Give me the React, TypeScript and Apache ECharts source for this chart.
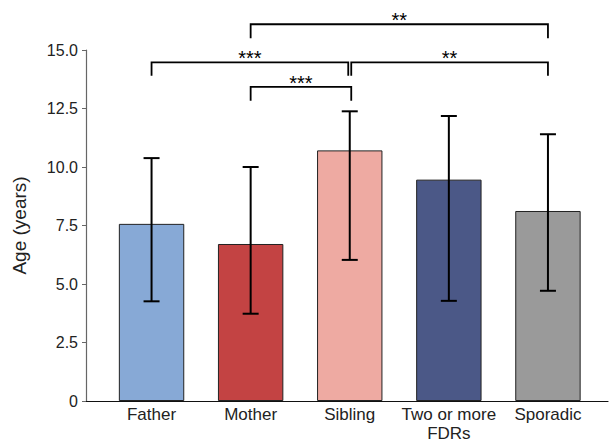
import React, { useEffect, useRef } from "react";
import * as echarts from "echarts";

const categories = ["Father", "Mother", "Sibling", "Two or more\nFDRs", "Sporadic"];
const means = [7.57, 6.71, 10.71, 9.46, 8.12];
const lowers = [4.26, 3.73, 6.03, 4.28, 4.71];
const uppers = [10.38, 10.0, 12.38, 12.18, 11.4];
const barColors = ["#87A9D6", "#C34343", "#EEAAA2", "#4B5887", "#9A9A9A"];
const yTicks = [0, 2.5, 5, 7.5, 10, 12.5, 15];

// brackets: [left category, right category, line level, leg end level]
const bracketLeft = [1, 0, 2, 1];
const bracketRight = [4, 2, 4, 2];
const bracketLine = [16.1, 14.47, 14.47, 13.42];
const bracketLeg = [15.5, 13.9, 13.9, 12.83];
const bracketLabels = ["**", "***", "**", "***"];
const FONT = "'Liberation Sans', Arial, Helvetica, sans-serif";

export default function App() {
  const ref = useRef<HTMLDivElement>(null);
  useEffect(() => {
    document.body.style.margin = "0";
    if (!ref.current) return;
    const chart = echarts.init(ref.current, undefined, { renderer: "svg" });
    const nudge = [
      [0, 0],
      [0, -1.5],
      [1.5, 0],
      [0, 1.5],
    ];
    chart.setOption({
      animation: false,
      grid: [
        { left: 102, right: 11.5, top: 50, bottom: 41, outerBoundsMode: "none", containLabel: false },
        { left: 86, right: 1, top: 50, bottom: 41, outerBoundsMode: "none", containLabel: false },
      ],
      xAxis: [
        {
          type: "category",
          gridIndex: 0,
          data: categories,
          axisLine: { show: false },
          axisTick: { show: false },
          axisLabel: {
            color: "#222",
            fontSize: 17,
            fontFamily: FONT,
            margin: 4,
            lineHeight: 19,
            interval: 0,
          },
        },
        {
          type: "value",
          gridIndex: 1,
          min: 0,
          max: 1,
          axisLine: { show: true, lineStyle: { color: "#111", width: 1.2 } },
          axisTick: { show: false },
          axisLabel: { show: false },
          splitLine: { show: false },
        },
      ],
      yAxis: [
        {
          type: "value",
          gridIndex: 0,
          min: 0,
          max: 15,
          interval: 2.5,
          offset: 16,
          name: "Age (years)",
          nameLocation: "middle",
          nameGap: 57,
          nameTextStyle: { color: "#222", fontSize: 19, fontFamily: FONT },
          axisLine: { show: true, lineStyle: { color: "#666", width: 1.2 } },
          axisTick: { show: true, length: 4, lineStyle: { color: "#666" } },
          axisLabel: {
            color: "#222",
            fontSize: 16,
            fontFamily: FONT,
            margin: 8,
            formatter: (v: number) =>
              yTicks.includes(v) ? (v === 0 ? "0" : v.toFixed(1)) : "",
          },
          splitLine: { show: false },
        },
        { type: "value", gridIndex: 1, show: false, min: 0, max: 1 },
      ],
      series: [
        {
          type: "bar",
          xAxisIndex: 0,
          yAxisIndex: 0,
          barWidth: "66%",
          data: means.map((v, i) => ({
            value: v,
            itemStyle: { color: barColors[i], borderColor: "#222", borderWidth: 1 },
          })),
        },
        {
          type: "custom",
          xAxisIndex: 0,
          yAxisIndex: 0,
          clip: false,
          z: 5,
          data: means.map((_, i) => [i, lowers[i], uppers[i]]),
          renderItem: (params: any, api: any) => {
            const lo = api.coord([api.value(0), api.value(1)]);
            const hi = api.coord([api.value(0), api.value(2)]);
            const hw = 8;
            const style = { stroke: "#000", lineWidth: 2 };
            return {
              type: "group",
              children: [
                { type: "line", shape: { x1: lo[0], y1: lo[1], x2: hi[0], y2: hi[1] }, style },
                { type: "line", shape: { x1: hi[0] - hw, y1: hi[1], x2: hi[0] + hw, y2: hi[1] }, style },
                { type: "line", shape: { x1: lo[0] - hw, y1: lo[1], x2: lo[0] + hw, y2: lo[1] }, style },
              ],
            };
          },
        },
        {
          type: "custom",
          xAxisIndex: 0,
          yAxisIndex: 0,
          clip: false,
          z: 6,
          data: bracketLabels.map((_, i) => [bracketLeft[i], bracketRight[i], bracketLine[i], bracketLeg[i]]),
          renderItem: (params: any, api: any) => {
            const idx = params.dataIndex;
            const a = api.coord([api.value(0), api.value(2)]);
            const b = api.coord([api.value(1), api.value(2)]);
            const legEnd = api.coord([api.value(0), api.value(3)]);
            const x1 = a[0] + nudge[idx][0];
            const x2 = b[0] + nudge[idx][1];
            const y = a[1];
            const y2 = legEnd[1];
            const style = { stroke: "#000", lineWidth: 1.8, fill: "none" };
            return {
              type: "group",
              children: [
                {
                  type: "polyline",
                  shape: { points: [[x1, y2], [x1, y], [x2, y], [x2, y2]] },
                  style,
                },
                {
                  type: "text",
                  style: {
                    text: bracketLabels[idx],
                    x: (x1 + x2) / 2,
                    y: y - 4,
                    align: "center",
                    verticalAlign: "middle",
                    font: `20px ${FONT}`,
                    fill: "#000",
                  },
                },
              ],
            };
          },
        },
      ],
    });
    return () => chart.dispose();
  }, []);
  return <div ref={ref} style={{ width: 609, height: 442 }} />;
}
